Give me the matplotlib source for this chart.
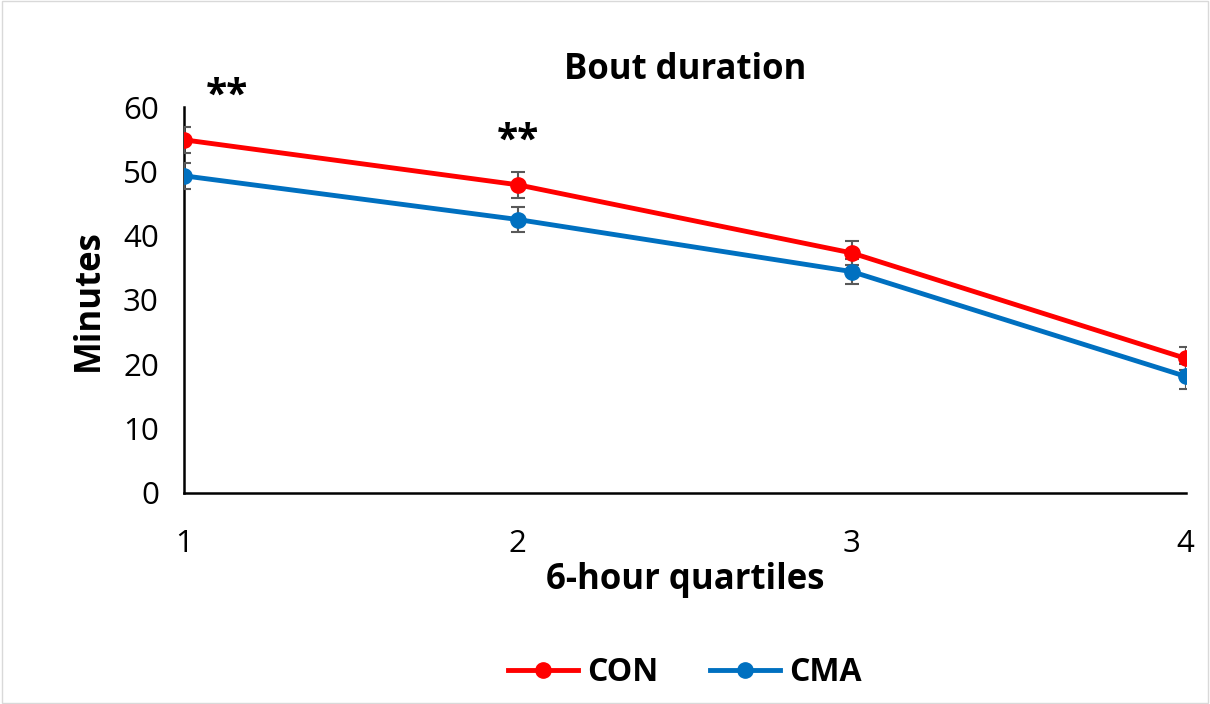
import matplotlib.pyplot as plt
from matplotlib.patches import Rectangle
from matplotlib.lines import Line2D

quartiles = [1, 2, 3, 4]
con_mean = [54.9, 47.9, 37.3, 20.9]
con_err = [2.0, 2.0, 1.8, 1.8]
cma_mean = [49.3, 42.5, 34.4, 18.1]
cma_err = [2.0, 2.0, 2.0, 2.0]
sig_labels = ["**", "**", "", ""]

con_color = '#ff0000'
cma_color = '#0070c0'

plt.rcParams['font.family'] = ['Open Sans', 'DejaVu Sans']

fig = plt.figure(figsize=(12.1, 7.04), dpi=100)
fig.patches.append(Rectangle((0.002, 0.002), 0.996, 0.996, transform=fig.transFigure,
                             fill=False, edgecolor='#d9d9d9', lw=1))
ax = fig.add_axes([0.152, 0.30, 0.828, 0.548])

ax.errorbar(quartiles, con_mean, yerr=con_err, color=con_color, lw=3.5, marker='o', ms=11,
            ecolor='#595959', elinewidth=1.5, capsize=5, capthick=1.5, zorder=3)
ax.errorbar(quartiles, cma_mean, yerr=cma_err, color=cma_color, lw=3.5, marker='o', ms=11,
            ecolor='#595959', elinewidth=1.5, capsize=5, capthick=1.5, zorder=3)

for x, y, e, s in zip(quartiles, con_mean, con_err, sig_labels):
    if s:
        ax.text(x + (0.13 if x == 1 else 0), y + e + 1.8, s, ha='center', va='bottom',
                fontsize=28, fontweight='bold')

ax.set_xlim(1, 4)
ax.set_ylim(0, 60)
ax.set_xticks(quartiles)
ax.set_yticks(range(0, 61, 10))
ax.tick_params(length=0, labelsize=22.5)
ax.tick_params(axis='x', pad=26)
ax.tick_params(axis='y', pad=18)
for side in ['top', 'right']:
    ax.spines[side].set_visible(False)
for side in ['left', 'bottom']:
    ax.spines[side].set_linewidth(1.8)
    ax.spines[side].set_color('black')

ax.set_xlabel('6-hour quartiles', fontsize=25, fontweight='bold', labelpad=2)
ax.set_ylabel('Minutes', fontsize=25, fontweight='bold', labelpad=12)
fig.text(0.566, 0.9, 'Bout duration', ha='center', va='center', fontsize=25, fontweight='bold')

handles = [Line2D([], [], color=con_color, lw=3.5, marker='o', ms=11),
           Line2D([], [], color=cma_color, lw=3.5, marker='o', ms=11)]
fig.legend(handles, ['CON', 'CMA'], loc='center', bbox_to_anchor=(0.566, 0.045), ncol=2,
           frameon=False, prop={'size': 23, 'weight': 'bold'}, handlelength=2.2,
           handletextpad=0.3, columnspacing=1.6)

fig.savefig('out.png', dpi=100)
